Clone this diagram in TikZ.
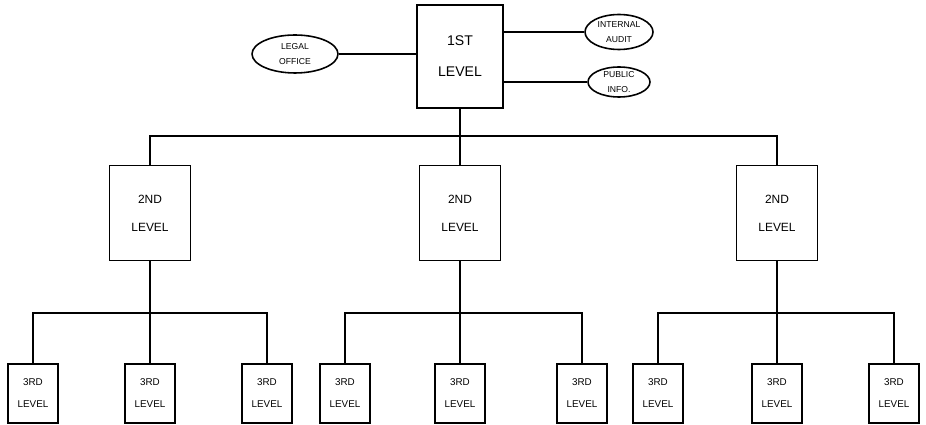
\documentclass[tikz,border=0pt]{standalone}
\usepackage{fontspec}
\setmainfont{Liberation Sans}
\usetikzlibrary{calc,positioning,shapes.geometric}

\begin{document}
\begin{tikzpicture}[x=0.02cm, y=-0.02cm,
		topbox/.style={draw, line width=0.9pt, minimum width=1.72cm, minimum height=2.06cm,
			inner sep=0pt, align=center, font={\fontsize{8}{17.6}\selectfont}},
		midbox/.style={draw, line width=0.9pt, minimum width=1.62cm, minimum height=1.9cm,
			inner sep=0pt, align=center, font={\fontsize{6.8}{15.9}\selectfont}},
		lowbox/.style={draw, line width=0.9pt, minimum width=1.0cm, minimum height=1.18cm,
			inner sep=0pt, align=center, font={\fontsize{5.6}{12.5}\selectfont}},
		staff/.style={draw, ellipse, line width=0.9pt, inner sep=0pt,
			align=center, font={\fontsize{4.9}{8.5}\selectfont}},
		link/.style={line width=0.9pt}
		]
		\useasboundingbox (0,0) rectangle (926,425);
		% first level and staff offices
		\node[topbox] (top) at (460,56.5) {1ST\\LEVEL};
		\node[staff, minimum width=1.72cm, minimum height=0.76cm] (legal) at (295,54) {LEGAL\\OFFICE};
		\node[staff, minimum width=1.36cm, minimum height=0.7cm] (audit) at (619,32) {INTERNAL\\AUDIT};
		\node[staff, minimum width=1.24cm, minimum height=0.6cm] (info) at (619,82) {PUBLIC\\INFO.};
		\draw[link] (legal) -- (legal -| top.west);
		\draw[link] (top.east |- audit) -- (audit);
		\draw[link] (top.east |- info) -- (info);
		% second level
		\node[midbox] (s1) at (150,213) {2ND\\LEVEL};
		\node[midbox] (s2) at (460,213) {2ND\\LEVEL};
		\node[midbox] (s3) at (777,213) {2ND\\LEVEL};
		\coordinate (bar) at (460,136);
		\draw[link] (top.south) -- (bar);
		\draw[link] (s1.north) |- (bar) -| (s3.north);
		\draw[link] (bar) -- (s2.north);
		% third level
		\foreach \i/\xa/\xb/\xc in {1/33/150/267, 2/345/460/582, 3/658/777/894} {
			\node[lowbox] (t\i a) at (\xa,393.5) {3RD\\LEVEL};
			\node[lowbox] (t\i b) at (\xb,393.5) {3RD\\LEVEL};
			\node[lowbox] (t\i c) at (\xc,393.5) {3RD\\LEVEL};
			\coordinate (sub\i) at (\xb,313);
			\draw[link] (s\i.south) -- (sub\i);
			\draw[link] (t\i a.north) |- (sub\i) -| (t\i c.north);
			\draw[link] (sub\i) -- (t\i b.north);
		}
	\end{tikzpicture}
\end{document}
